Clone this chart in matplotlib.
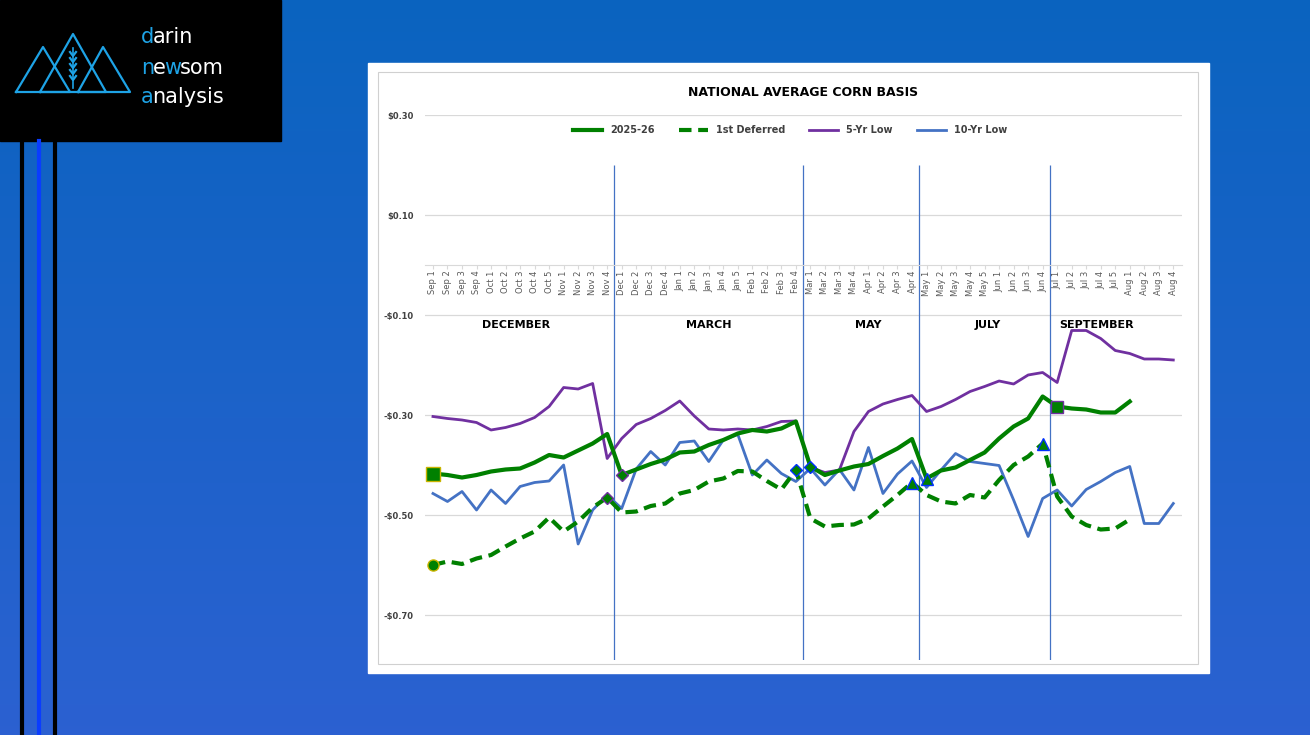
import numpy as np
import matplotlib
matplotlib.use('Agg')
import matplotlib.pyplot as plt
from matplotlib.lines import Line2D
from matplotlib.patches import Rectangle

# Dados (semanas e séries de basis)
weeks = (['Sep 1', 'Sep 2', 'Sep 3', 'Sep 4', 'Oct 1', 'Oct 2', 'Oct 3', 'Oct 4', 'Oct 5',
          'Nov 1', 'Nov 2', 'Nov 3', 'Nov 4', 'Dec 1', 'Dec 2', 'Dec 3', 'Dec 4',
          'Jan 1', 'Jan 2', 'Jan 3', 'Jan 4', 'Jan 5', 'Feb 1', 'Feb 2', 'Feb 3', 'Feb 4',
          'Mar 1', 'Mar 2', 'Mar 3', 'Mar 4', 'Apr 1', 'Apr 2', 'Apr 3', 'Apr 4',
          'May 1', 'May 2', 'May 3', 'May 4', 'May 5', 'Jun 1', 'Jun 2', 'Jun 3', 'Jun 4',
          'Jul 1', 'Jul 2', 'Jul 3', 'Jul 4', 'Jul 5', 'Aug 1', 'Aug 2', 'Aug 3', 'Aug 4'])

basis_2025 = [-0.417, -0.420, -0.425, -0.420, -0.413, -0.409, -0.407, -0.395, -0.380,
              -0.385, -0.371, -0.357, -0.338, -0.420, -0.409, -0.398, -0.389,
              -0.375, -0.373, -0.360, -0.350, -0.337, -0.330, -0.333, -0.327, -0.313,
              -0.403, -0.420, -0.411, -0.403, -0.398, -0.382, -0.367, -0.348,
              -0.427, -0.411, -0.405, -0.390, -0.375, -0.347, -0.323, -0.307, -0.263,
              -0.283, -0.287, -0.289, -0.295, -0.295, -0.273, None, None, None]

deferred = [-0.600, -0.593, -0.598, -0.587, -0.580, -0.563, -0.547, -0.533, -0.505,
            -0.533, -0.513, -0.485, -0.465, -0.495, -0.493, -0.482, -0.477,
            -0.457, -0.450, -0.433, -0.427, -0.412, -0.413, -0.432, -0.449, -0.410,
            -0.507, -0.523, -0.520, -0.519, -0.507, -0.483, -0.460, -0.435,
            -0.460, -0.473, -0.477, -0.460, -0.465, -0.430, -0.400, -0.383, -0.357,
            -0.463, -0.503, -0.520, -0.529, -0.527, -0.509, None, None, None]

low_5yr = [-0.303, -0.307, -0.310, -0.315, -0.330, -0.325, -0.317, -0.305, -0.283,
           -0.245, -0.248, -0.237, -0.387, -0.347, -0.319, -0.307, -0.291,
           -0.272, -0.302, -0.328, -0.330, -0.328, -0.330, -0.323, -0.313, -0.312,
           -0.405, -0.415, -0.410, -0.333, -0.293, -0.278, -0.269, -0.261,
           -0.293, -0.283, -0.269, -0.253, -0.243, -0.232, -0.238, -0.220, -0.215,
           -0.235, -0.131, -0.131, -0.147, -0.171, -0.177, -0.188, -0.188, -0.190]

low_10yr = [-0.457, -0.473, -0.453, -0.490, -0.450, -0.477, -0.443, -0.435, -0.432,
            -0.400, -0.558, -0.490, -0.460, -0.487, -0.408, -0.373, -0.400,
            -0.355, -0.352, -0.393, -0.350, -0.339, -0.420, -0.390, -0.417, -0.433,
            -0.407, -0.440, -0.409, -0.450, -0.365, -0.457, -0.418, -0.392,
            -0.445, -0.410, -0.377, -0.393, -0.397, -0.401, -0.470, -0.543, -0.467,
            -0.450, -0.482, -0.449, -0.433, -0.415, -0.403, -0.517, -0.517, -0.477]

contracts = ['DECEMBER', 'MARCH', 'MAY', 'JULY', 'SEPTEMBER']
contract_pos = [5.7, 19.0, 30.0, 38.2, 45.7]
rolls = [12.5, 25.5, 33.5, 42.5]

W, H = 1310, 735
fig = plt.figure(figsize=(W / 100, H / 100), dpi=100)


def px(l, t, w, h):
    return [l / W, 1 - (t + h) / H, w / W, h / H]


# Fundo em degradê azul
bg = fig.add_axes([0, 0, 1, 1])
grad = np.linspace(0, 1, 256)[:, None]
top = np.array([0.04, 0.39, 0.75])
bot = np.array([0.17, 0.38, 0.82])
img = top[None, None, :] * (1 - grad[:, :, None]) + bot[None, None, :] * grad[:, :, None]
bg.imshow(img, aspect='auto', extent=[0, W, H, 0])
bg.set_xlim(0, W)
bg.set_ylim(H, 0)
bg.axis('off')

# Logo
bg.add_patch(Rectangle((0, 0), 281, 141, color='black'))
cyan = '#1ea3e6'
for (x0, x1, ax_, ay) in [(16, 70, 43, 47), (40, 106, 73, 34), (78, 130, 103, 47)]:
    bg.plot([x0, ax_, x1, x0], [92, ay, 92, 92], color=cyan, lw=1.6)
bg.plot([73, 73], [48, 88], color=cyan, lw=1.2)
for yy in [52, 58, 64, 70, 76]:
    bg.plot([70, 73, 76], [yy, yy + 4, yy], color=cyan, lw=1.6)

renderer = fig.canvas.get_renderer()
for y, parts in [(37, [('d', cyan), ('arin', 'white')]),
                 (68, [('n', cyan), ('e', 'white'), ('w', cyan), ('som', 'white')]),
                 (97, [('a', cyan), ('nalysis', 'white')])]:
    xx = 141
    for s, c in parts:
        t = bg.text(xx, y, s, color=c, fontsize=15, va='center', ha='left')
        bb = t.get_window_extent(renderer=renderer)
        xx += bb.width - 1.5
for xv, c in [(21.5, 'black'), (38.5, '#0a3cff'), (54.5, 'black')]:
    bg.plot([xv, xv], [141, H], color=c, lw=3)

# Caixa do gráfico
bg.add_patch(Rectangle((368, 63), 841, 610, color='white'))
bg.add_patch(Rectangle((378, 72), 820, 592, fill=False, ec='#d0d0d0', lw=0.8))

ax = fig.add_axes(px(425, 115, 757, 545))
ax.spines['bottom'].set_position(('data', 0))
x = np.arange(len(weeks))
arr = lambda v: np.array([np.nan if a is None else a for a in v], dtype=float)
b25, dfd, l5, l10 = arr(basis_2025), arr(deferred), arr(low_5yr), arr(low_10yr)

for yv in [0.30, 0.10, -0.10, -0.30, -0.50, -0.70]:
    ax.axhline(yv, color='#d9d9d9', lw=0.9, zorder=0)
ax.vlines(rolls, -0.79, 0.20, color='#4472c4', lw=0.9, zorder=1)

ax.plot(x, l5, color='#7030a0', lw=2, zorder=3)
ax.plot(x, l10, color='#4472c4', lw=2, zorder=3)
ax.plot(x, b25, color='#008000', lw=3, zorder=4)
ax.plot(x, dfd, color='#008000', lw=3, ls=(0, (3, 1.6)), zorder=4)

# Marcadores de rolagem
g = '#008000'
ax.plot(0, b25[0], 's', ms=10, mfc=g, mec='#c9b400', zorder=6)
ax.plot(0, dfd[0], 'o', ms=8, mfc=g, mec='#c9b400', zorder=6)
ax.plot(12, dfd[12], 'D', ms=6, mfc=g, mec='#7030a0', zorder=6)
ax.plot(13, b25[13], 'D', ms=6, mfc=g, mec='#7030a0', zorder=6)
ax.plot(25, dfd[25], 'D', ms=6, mfc=g, mec='#0030ff', zorder=6)
ax.plot(26, b25[26], 'D', ms=6, mfc=g, mec='#0030ff', zorder=6)
ax.plot(33, dfd[33], '^', ms=8, mfc=g, mec='#0030ff', zorder=6)
ax.plot(34, b25[34], '^', ms=8, mfc=g, mec='#0030ff', zorder=6)
ax.plot(42, dfd[42], '^', ms=8, mfc=g, mec='#0030ff', zorder=6)
ax.plot(43, b25[43], 's', ms=8, mfc=g, mec='#7030a0', zorder=6)

for name, xp in zip(contracts, contract_pos):
    ax.text(xp, -0.12, name, ha='center', va='center', fontsize=8, fontweight='bold')

ax.set_xlim(-0.55, 51.6)
ax.set_ylim(-0.79, 0.30)
ax.set_yticks([0.30, 0.10, -0.10, -0.30, -0.50, -0.70])
ax.set_yticklabels(['$0.30', '$0.10', '-$0.10', '-$0.30', '-$0.50', '-$0.70'],
                   fontsize=6, fontweight='bold', color='#404040')
ax.set_xticks(x)
ax.set_xticklabels(weeks, rotation=90, fontsize=6, color='#595959')
ax.spines['bottom'].set_color('#d9d9d9')
for s in ['top', 'right', 'left']:
    ax.spines[s].set_visible(False)
ax.tick_params(axis='y', length=0, pad=8)
ax.tick_params(axis='x', length=3, color='#d9d9d9', pad=1)

ax.set_title('NATIONAL AVERAGE CORN BASIS', fontsize=9, fontweight='bold', pad=14)
handles = [Line2D([], [], color=g, lw=3, label='2025-26'),
           Line2D([], [], color=g, lw=3, ls=(0, (3, 1.6)), label='1st Deferred'),
           Line2D([], [], color='#7030a0', lw=2, label='5-Yr Low'),
           Line2D([], [], color='#4472c4', lw=2, label='10-Yr Low')]
fig.legend(handles=handles, loc='center', bbox_to_anchor=(790 / W, 1 - 130 / H), ncol=4,
           frameon=False, prop={'size': 7, 'weight': 'bold'}, columnspacing=2.5,
           handlelength=3, labelcolor='#404040')

fig.savefig('out.png', dpi=100)
